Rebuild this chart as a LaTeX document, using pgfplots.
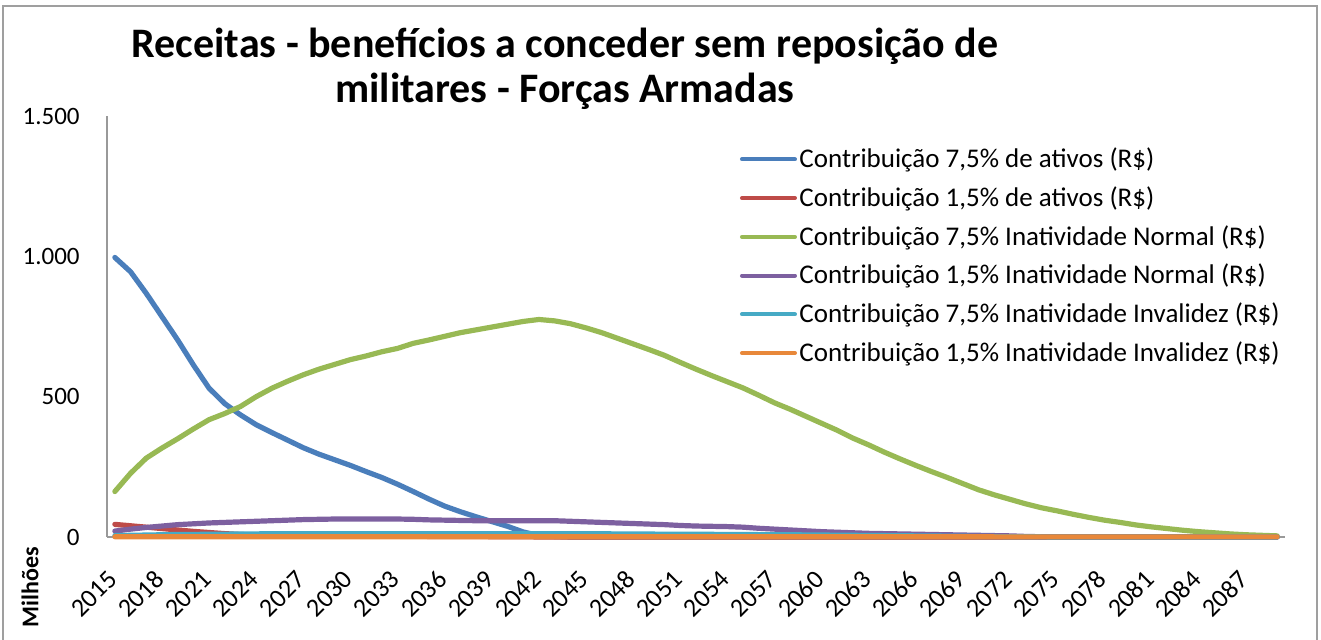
\documentclass[border=0pt]{standalone}
\usepackage{fontspec}
\setmainfont{Carlito}
\usepackage{pgfplots}
\usepackage{pgfplotstable}
\pgfplotsset{compat=1.18}
\definecolor{cA}{HTML}{4A7EBB}
\definecolor{cB}{HTML}{BE4B48}
\definecolor{cC}{HTML}{98B954}
\definecolor{cD}{HTML}{7D60A0}
\definecolor{cE}{HTML}{46AAC5}
\definecolor{cF}{HTML}{E8883A}
\pgfplotstableread{
year blue red green purple teal orange
2015 996 45 162 21 5 1
2016 945 40 227 28 6 1
2017 868 35 281 34 7 1
2018 785 30 317 39 8 1
2019 702 25 350 44 9 1
2020 613 20 385 47 9 1
2021 530 16 418 50 10 1
2022 475 12 440 52 10 1
2023 435 9 465 54 11 1
2024 400 7 500 56 11 1
2025 372 6 530 58 12 1
2026 345 5 555 60 12 1
2027 318 5 578 62 12 1
2028 295 4 598 63 12 1
2029 275 4 615 64 12 1
2030 255 4 632 64 12 1
2031 233 3 645 64 12 1
2032 212 3 660 64 12 1
2033 188 3 672 64 12 1
2034 162 3 690 63 12 1
2035 135 2 702 61 12 1
2036 110 2 715 60 12 1
2037 90 2 728 59 12 1
2038 72 2 738 58 12 1
2039 55 1 748 58 12 1
2040 38 1 758 58 12 1
2041 18 1 768 58 12 1
2042 5 0 775 58 12 1
2043 2 0 770 58 12 1
2044 0 0 760 56 12 1
2045 0 0 745 54 12 1
2046 0 0 728 52 11.5 1
2047 0 0 708 50 11 1
2048 0 0 688 48 11 1
2049 0 0 668 46 10.5 1
2050 0 0 647 44 10 1
2051 0 0 622 41 10 1
2052 0 0 598 39 10 1
2053 0 0 575 38 9.5 1
2054 0 0 553 37 9 1
2055 0 0 531 35 9 1
2056 0 0 505 31 8.5 1
2057 0 0 478 28 8 1
2058 0 0 455 25 8 1
2059 0 0 430 22 7.5 1
2060 0 0 405 19 7 1
2061 0 0 380 17 6.5 1
2062 0 0 352 15 6 1
2063 0 0 328 13 5.5 1
2064 0 0 302 12 5 1
2065 0 0 278 11 4.5 1
2066 0 0 255 10 4 1
2067 0 0 233 9 3.5 1
2068 0 0 212 8 3 1
2069 0 0 190 7 2.5 1
2070 0 0 168 6 2 1
2071 0 0 150 5 1.5 0.5
2072 0 0 134 4 1 0.5
2073 0 0 118 2 0.7 0.5
2074 0 0 104 1 0.5 0.5
2075 0 0 93 0.5 0 0.5
2076 0 0 81 0 0 0.5
2077 0 0 70 0 0 0.5
2078 0 0 60 0 0 0.5
2079 0 0 52 0 0 0.5
2080 0 0 43 0 0 0.5
2081 0 0 36 0 0 0.5
2082 0 0 30 0 0 0.5
2083 0 0 24 0 0 0.5
2084 0 0 19 0 0 0.5
2085 0 0 15 0 0 0.5
2086 0 0 11 0 0 0.5
2087 0 0 8 0 0 0.5
2088 0 0 6 0 0 0.5
2089 0 0 4 0 0 0.5
}\datatable
\begin{document}
\begin{tikzpicture}
\draw[gray!75, line width=1pt] (1.5pt,0pt) -- (1.5pt,317pt) -- (658.5pt,317pt) -- (658.5pt,0pt);
\node[font=\bfseries\fontsize{21}{24}\selectfont, anchor=base] at (282.5pt,291pt) {Receitas - benefícios a conceder sem reposição de};
\node[font=\bfseries\fontsize{21}{24}\selectfont, anchor=base] at (282.5pt,268.5pt) {militares - Forças Armadas};
\node[font=\bfseries\fontsize{12}{14}\selectfont, rotate=90] at (15pt,26.5pt) {Milhões};
\begin{axis}[
  at={(53.5pt,51.5pt)}, anchor=south west,
  scale only axis, width=589pt, height=210.5pt,
  xmin=2014.5, xmax=2089.5, ymin=0, ymax=1500,
  axis lines=left, axis line style={-, draw=gray!80, line width=0.8pt},
  clip=false,
  xtick={2015,2018,...,2087}, ytick={0,500,1000,1500},
  major tick length=0pt,
  /pgf/number format/assume math mode=true,
  scaled ticks=false,
  x tick label style={/pgf/number format/1000 sep={}, inner sep=0pt, xshift=-1pt, yshift=-19pt, rotate=45, anchor=east, font=\fontsize{13}{15}\selectfont},
  y tick label style={/pgf/number format/1000 sep={.}, anchor=east, inner sep=0pt, xshift=-13.5pt, font=\fontsize{12.5}{14}\selectfont},
  legend style={at={(0.537,0.931)}, anchor=north west, draw=none, fill=none, inner sep=0pt,
     font=\fontsize{13.5}{15}\selectfont, row sep=5.5pt, nodes={inner sep=1.25pt}},
  legend cell align=left,
  legend image code/.code={\draw[#1, line width=2pt] (0pt,0pt) -- (26.5pt,0pt);},
  every axis plot/.append style={line width=2.6pt, line join=round, line cap=round},
]
\addplot[cA] table[x=year, y=blue] {\datatable};
\addplot[cB] table[x=year, y=red] {\datatable};
\addplot[cC] table[x=year, y=green] {\datatable};
\addplot[cD] table[x=year, y=purple] {\datatable};
\addplot[cE] table[x=year, y=teal] {\datatable};
\addplot[cF] table[x=year, y=orange] {\datatable};
\legend{{Contribuição 7,5\% de ativos (R\$)},
{Contribuição 1,5\% de ativos (R\$)},
{Contribuição 7,5\% Inatividade Normal (R\$)},
{Contribuição 1,5\% Inatividade Normal (R\$)},
{Contribuição 7,5\% Inatividade Invalidez (R\$)},
{Contribuição 1,5\% Inatividade Invalidez (R\$)}}
\end{axis}
\pgfresetboundingbox
\useasboundingbox (0pt,0pt) rectangle (660.5pt,320pt);
\end{tikzpicture}
\end{document}
